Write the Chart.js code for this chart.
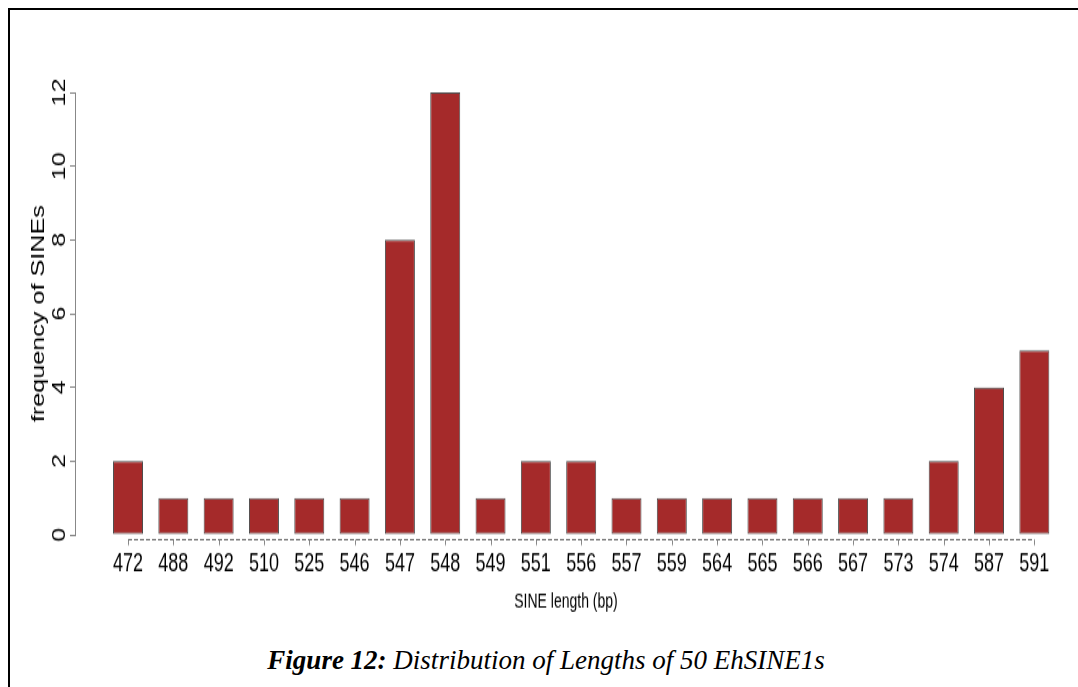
<!DOCTYPE html>
<html>
<head>
<meta charset="utf-8">
<script src="https://cdn.jsdelivr.net/npm/chart.js@4.4.1/dist/chart.umd.min.js"></script>
<style>
  html, body { margin: 0; padding: 0; background: #fff; overflow: hidden; }
  body { width: 1078px; height: 687px; position: relative; }
  #frame { position: absolute; left: 8px; top: 8px; width: 1100px; height: 700px;
           border-left: 2px solid #000; border-top: 2px solid #000; }
  /* the original R plot was stretched vertically */
  #stretch { position: absolute; left: 0; top: 0; transform: scaleY(1.4); transform-origin: 0 0; }
  #caption { position: absolute; left: 546px; top: 645px; transform: translateX(-50%);
             white-space: nowrap; font-family: "Liberation Serif", "Times New Roman", serif;
             font-style: italic; font-size: 27px; color: #000; }
</style>
</head>
<body>
<div id="frame"></div>
<div id="stretch"><canvas id="chart" width="1078" height="460"></canvas></div>
<div id="caption"><b>Figure 12:</b> Distribution of Lengths of 50 EhSINE1s</div>
<script>
"use strict";
const lengths = ['472', '488', '492', '510', '525', '546', '547', '548', '549', '551', '556',
    '557', '559', '564', '565', '566', '567', '573', '574', '587', '591'];
const counts = [2, 1, 1, 1, 1, 1, 8, 12, 1, 2, 2, 1, 1, 1, 1, 1, 1, 1, 2, 4, 5];
const yMax = 12;
const yStep = 2;

// R style x axis: dashed line from first to last tick, with tick marks
const dashedAxis = {
    id: 'dashedAxis',
    afterDraw(chart) {
        const xScale = chart.scales.x;
        const ctx = chart.ctx;
        const y = Math.round(chart.chartArea.bottom + 3) + 0.5;
        ctx.save();
        ctx.strokeStyle = '#666';
        ctx.lineWidth = 1;
        ctx.setLineDash([4, 2]);
        ctx.beginPath();
        ctx.moveTo(xScale.getPixelForValue(0), y);
        ctx.lineTo(xScale.getPixelForValue(lengths.length - 1), y);
        ctx.stroke();
        ctx.setLineDash([]);
        ctx.strokeStyle = '#888';
        ctx.beginPath();
        xScale.ticks.forEach((tick) => {
            const px = Math.round(xScale.getPixelForValue(tick.value)) + 0.5;
            ctx.moveTo(px, y);
            ctx.lineTo(px, y + 4);
        });
        ctx.stroke();
        ctx.restore();
    }
};

new Chart(document.getElementById('chart'), {
    type: 'bar',
    data: {
        datasets: [{
            label: 'frequency of SINEs',
            data: counts.map((c, i) => ({ x: i, y: c })),
            backgroundColor: '#a52a2a',
            borderColor: '#4d4d4d',
            borderWidth: 1,
            borderSkipped: false,
            barPercentage: 0.662,
            categoryPercentage: 1
        }]
    },
    options: {
        responsive: false,
        animation: false,
        layout: { padding: { left: 0, right: 21, top: 66, bottom: 18 } },
        plugins: {
            legend: { display: false },
            tooltip: { enabled: false }
        },
        scales: {
            x: {
                type: 'linear',
                min: -1.17,
                max: 20.5,
                offset: false,
                grid: { display: false, drawTicks: false, offset: false },
                border: { display: false },
                ticks: {
                    stepSize: 1,
                    autoSkip: false,
                    includeBounds: false,
                    maxRotation: 0,
                    padding: 10,
                    color: '#000',
                    font: { family: 'Liberation Sans', size: 18 },
                    callback: (v) => lengths[v]
                },
                afterBuildTicks: (s) => {
                    s.ticks = s.ticks.filter((t) => Number.isInteger(t.value) && t.value >= 0 && t.value < lengths.length);
                },
                afterFit: (s) => { s.height = 60; },
                title: {
                    display: true,
                    text: 'SINE length (bp)',
                    color: '#000',
                    font: { family: 'Liberation Sans', size: 14 },
                    padding: { top: 0, bottom: 3 }
                }
            },
            y: {
                min: 0,
                max: yMax,
                grid: { drawOnChartArea: false, tickLength: 5, color: '#888' },
                border: { color: '#888' },
                ticks: {
                    stepSize: yStep,
                    autoSkip: false,
                    minRotation: 90,
                    maxRotation: 90,
                    crossAlign: 'center',
                    padding: 0,
                    color: '#000',
                    font: { family: 'Liberation Sans', size: 18 }
                },
                afterFit: (s) => { s.width = 75; },
                title: {
                    display: true,
                    text: 'frequency of SINEs',
                    color: '#000',
                    font: { family: 'Liberation Sans', size: 18 },
                    padding: { top: 28, bottom: 0 }
                }
            }
        }
    },
    plugins: [dashedAxis]
});
</script>
</body>
</html>
